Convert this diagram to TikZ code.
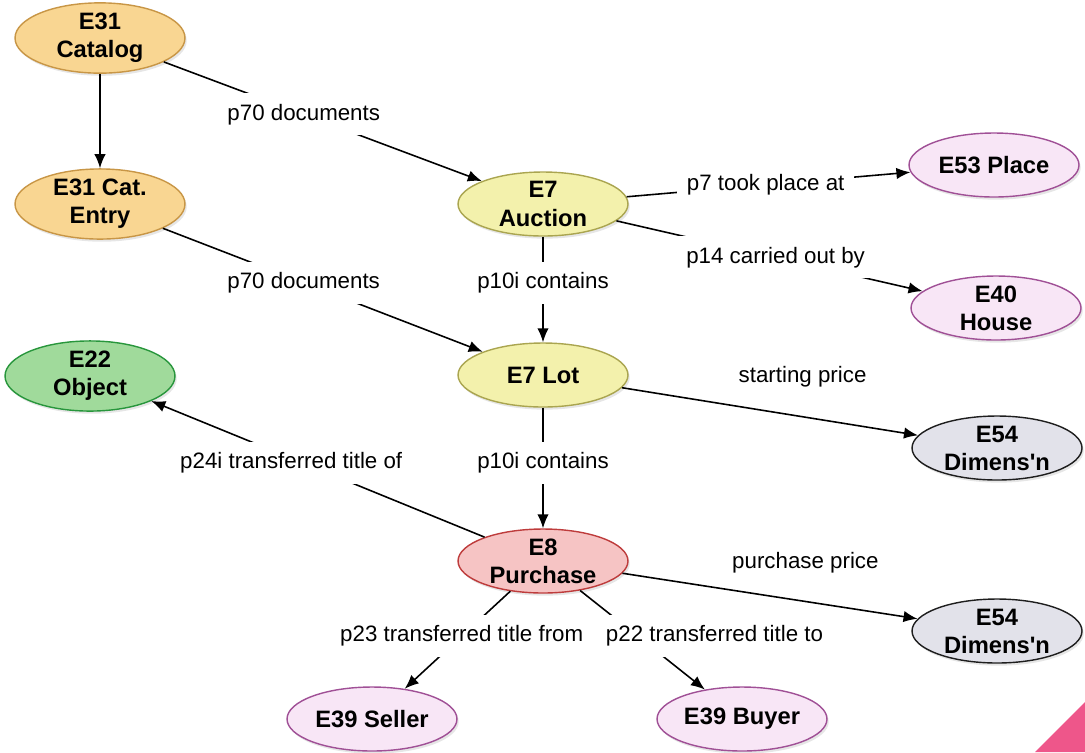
\documentclass[tikz,border=0pt]{standalone}
\usepackage{fontspec}
\setmainfont{Liberation Sans}
\usepackage{tikz}
\usetikzlibrary{arrows.meta, shapes.geometric, shadows}
\definecolor{catfill}{RGB}{249,214,146}
\definecolor{catline}{RGB}{200,150,70}
\definecolor{evfill}{RGB}{243,241,172}
\definecolor{evline}{RGB}{170,165,80}
\definecolor{actfill}{RGB}{248,230,246}
\definecolor{actline}{RGB}{160,80,150}
\definecolor{objfill}{RGB}{160,218,155}
\definecolor{objline}{RGB}{40,150,60}
\definecolor{dimfill}{RGB}{226,226,234}
\definecolor{dimline}{RGB}{30,30,30}
\definecolor{purfill}{RGB}{246,196,196}
\definecolor{purline}{RGB}{190,60,60}
\definecolor{corner}{RGB}{238,86,138}

\begin{document}
\begin{tikzpicture}[x=0.02cm, y=-0.02cm, >={Latex[length=8pt, width=6.5pt]}]
\tikzstyle{entity}=[ellipse, draw, line width=0.8pt, minimum width=3.4cm, minimum height=1.28cm, inner sep=0pt, align=center, font=\bfseries\fontsize{13.5}{16}\selectfont, drop shadow={opacity=0.2, shadow xshift=1pt, shadow yshift=-1.5pt}]
\tikzstyle{prop}=[fill=white, inner xsep=5.5pt, inner ysep=6pt, font=\fontsize{12.7}{15}\selectfont]
\useasboundingbox (0,0) rectangle (1085,752);
\fill[corner] (1035,752) -- (1085,702) -- (1085,752) -- cycle;

\node[entity, fill=catfill, draw=catline] (Cat) at (100,38) {E31\\Catalog};
\node[entity, fill=catfill, draw=catline] (Ent) at (100,204) {E31 Cat.\\Entry};
\node[entity, fill=evfill, draw=evline] (Auc) at (543,204) {E7\\Auction};
\node[entity, fill=evfill, draw=evline] (Lot) at (543,375) {E7 Lot};
\node[entity, fill=actfill, draw=actline] (Plc) at (994,165) {E53 Place};
\node[entity, fill=actfill, draw=actline] (Hse) at (996,308) {E40\\House};
\node[entity, fill=objfill, draw=objline] (Obj) at (90,376) {E22\\Object};
\node[entity, fill=dimfill, draw=dimline] (Dim1) at (997,448) {E54\\Dimens\textquotesingle n};
\node[entity, fill=purfill, draw=purline] (Pur) at (543,561) {E8\\Purchase};
\node[entity, fill=dimfill, draw=dimline] (Dim2) at (997,631) {E54\\Dimens\textquotesingle n};
\node[entity, fill=actfill, draw=actline] (Sel) at (372,719) {E39 Seller};
\node[entity, fill=actfill, draw=actline] (Buy) at (742,719) {E39 Buyer};

\path[->, line width=0.9pt]
  (Cat) edge (Ent)
        edge node[prop, pos=0.44] (P1) {p70 documents} (Auc)
  (Ent) edge node[prop, pos=0.44] (P2) {p70 documents} (Lot)
  (Auc) edge node[prop, pos=0.49] (P3) {p7 took place at} (Plc)
        edge node[prop, pos=0.52] (P4) {p14 carried out by} (Hse)
        edge node[prop, pos=0.44] (P5) {p10i contains} (Lot)
  (Lot) edge node[prop, pos=0.61, yshift=0.8cm] (P6) {starting price} (Dim1)
        edge node[prop, pos=0.46] (P7) {p10i contains} (Pur)
  (Pur) edge node[prop, pos=0.58, yshift=-0.1cm] (P8) {p24i transferred title of} (Obj)
        edge node[prop, pos=0.62, yshift=0.77cm] (P9) {purchase price} (Dim2)
        edge node[prop, pos=0.46] (P10) {p23 transferred title from} (Sel)
        edge node[prop, pos=0.46, xshift=1.54cm] (P11) {p22 transferred title to} (Buy);

\end{tikzpicture}
\end{document}
